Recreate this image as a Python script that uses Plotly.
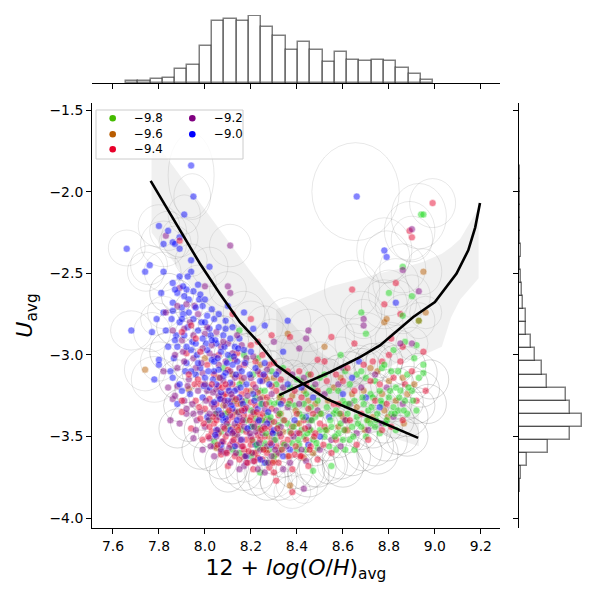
import plotly.graph_objects as go

# ---- marginal histograms (counts) ----
oh_start, oh_bin = 7.657, 0.0534
oh_counts = [5, 6, 11, 14, 43, 55, 112, 187, 193, 187, 200, 169, 142,
             100, 124, 100, 62, 92, 70, 67, 70, 67, 46, 28, 8]
u_start, u_bin = -3.84, 0.08
u_counts = [5, 13, 47, 177, 307, 380, 307, 286, 166, 138, 94, 70, 42,
            42, 23, 16, 10, 5, 13, 5, 3, 3, 3, 3, 3]

# ---- fitted relations and their bands ----
fit1_x = [7.764, 7.891, 7.978, 8.065, 8.152, 8.225, 8.312, 8.427, 8.529, 8.630, 8.732, 8.833, 8.927]
fit1_y = [-1.934, -2.236, -2.440, -2.625, -2.799, -2.911, -3.064, -3.177, -3.269, -3.330, -3.391, -3.453, -3.508]
fit2_x = [8.323, 8.427, 8.543, 8.674, 8.761, 8.906, 9.000, 9.094, 9.145, 9.175, 9.196]
fit2_y = [-3.246, -3.177, -3.106, -3.014, -2.942, -2.768, -2.676, -2.502, -2.359, -2.220, -2.069]

band1_x = [7.768, 7.90, 8.00, 8.10, 8.20, 8.30, 8.40, 8.50, 8.60, 8.70, 8.80, 8.93]
band1_hi = [-1.664, -1.92, -2.11, -2.30, -2.49, -2.67, -2.84, -2.98, -3.08, -3.16, -3.24, -3.33]
band1_lo = [-2.25, -2.50, -2.70, -2.90, -3.08, -3.24, -3.32, -3.38, -3.42, -3.46, -3.50, -3.56]
band2_x = [8.31, 8.43, 8.55, 8.66, 8.76, 8.85, 8.95, 9.03, 9.07, 9.11, 9.19]
band2_hi = [-2.72, -2.65, -2.58, -2.54, -2.50, -2.47, -2.43, -2.38, -2.34, -2.29, -2.10]
band2_lo = [-3.42, -3.38, -3.30, -3.20, -3.10, -3.04, -3.00, -2.95, -2.77, -2.66, -2.53]

# ---- galaxies, by colour class ----
pts_m90 = [(7.94,-1.84),(7.95,-2.03),(7.91,-2.14),(7.80,-2.21),(7.84,-2.24),(7.82,-2.32),(7.86,-2.31),
    (7.87,-2.32),(7.89,-2.28),(7.89,-2.35),(7.66,-2.35),(7.76,-2.45),(7.74,-2.49),(7.82,-2.49),(7.94,-2.42),
    (7.86,-2.56),(7.81,-2.62),(7.82,-2.74),(7.79,-2.78),(7.68,-2.85),(7.77,-2.86),(7.80,-3.03),(7.80,-3.06),
    (7.78,-3.15),(8.66,-2.03),(8.78,-2.36),(8.79,-2.40),(8.83,-2.68),(8.36,-2.79),(8.26,-2.82),(8.17,-2.74),
    (8.02,-2.46),(7.94,-2.49),(7.89,-2.52),(7.97,-2.57),(7.92,-2.60),(7.86,-2.68),(8.10,-2.70),(8.21,-2.84),
    (8.34,-2.98),(8.67,-3.04),(7.84,-2.95),(7.85,-3.10),(7.83,-2.85),
    (7.88,-2.62),(7.90,-2.71),(7.93,-2.66),(7.89,-2.80),(7.95,-2.78),(7.91,-2.88),(7.97,-2.85),(7.88,-2.95),
    (7.94,-2.97),(7.92,-3.05),(7.96,-3.12),(7.89,-3.18),
    (7.99,-2.70),(8.01,-2.76),(8.02,-2.84),(7.99,-2.90),(8.01,-2.97),(8.03,-3.03),(7.98,-3.08),(8.00,-3.14),
    (8.02,-3.20),(7.99,-3.26),(8.01,-3.38),
    (8.04,-2.78),(8.06,-2.83),(8.08,-2.88),(8.05,-2.93),(8.07,-2.98),(8.04,-3.04),(8.06,-3.09),(8.08,-3.13),
    (8.05,-3.18),(8.07,-3.23),(8.04,-3.29),(8.06,-3.34),(8.08,-3.40),(8.05,-3.46),(8.07,-3.55),
    (8.09,-2.84),(8.11,-2.90),(8.13,-2.95),(8.10,-3.00),(8.12,-3.06),(8.09,-3.11),(8.11,-3.17),(8.13,-3.22),
    (8.10,-3.28),(8.12,-3.33),(8.09,-3.39),(8.11,-3.46),(8.13,-3.56),
    (8.15,-2.90),(8.17,-2.97),(8.14,-3.04),(8.16,-3.10),(8.18,-3.18),(8.15,-3.26),(8.17,-3.34),(8.14,-3.40),
    (8.16,-3.52),(8.18,-3.62),
    (8.20,-2.98),(8.22,-3.08),(8.24,-3.16),(8.21,-3.24),(8.23,-3.33),(8.20,-3.44),(8.22,-3.55),(8.24,-3.64),
    (8.26,-3.05),(8.28,-3.18),(8.25,-3.30),(8.27,-3.42),(8.29,-3.55),(8.26,-3.66),
    (8.31,-3.12),(8.33,-3.30),(8.30,-3.46),(8.34,-3.62),(8.36,-3.18),(8.39,-3.40),(8.37,-3.58),
    (8.42,-3.20),(8.44,-3.38),(8.45,-3.55),(8.47,-3.26),(8.50,-3.50),(8.54,-3.38),(8.60,-3.24),
    (8.64,-3.14),(8.70,-3.26),(8.76,-3.32),
    (7.905,-2.75),(7.925,-2.83),(7.945,-2.92),(7.965,-3.00),(7.915,-3.10),(7.935,-3.24),(7.985,-2.80),
    (8.005,-2.93),(8.015,-3.10),(7.995,-3.19),(8.025,-2.88),(8.035,-3.15),(8.045,-2.91),(8.055,-3.02),
    (8.065,-3.27),(8.075,-3.37),(8.085,-2.95),(8.095,-3.05),(8.105,-3.22),(8.115,-3.31),(8.125,-3.01),
    (8.135,-3.12),(8.145,-2.96),(8.155,-3.20),(8.165,-3.30),(8.175,-3.05),(8.185,-3.45),(8.195,-3.12),
    (8.215,-3.28),(8.235,-3.40),(8.255,-3.12),(8.275,-3.35),(8.295,-3.48),(7.875,-2.88),(7.865,-3.02),
    (7.855,-2.78),(7.905,-2.58),(7.925,-2.52),(7.975,-2.66),(8.045,-3.49),
    (7.87,-2.60),(7.91,-2.64),(7.95,-2.61),(7.98,-2.63),(8.00,-2.66),(7.86,-2.73),(7.90,-2.78),(7.93,-2.74),
    (7.96,-2.71),(8.03,-2.72),(7.87,-2.91),(7.92,-2.95),(7.96,-2.93),(8.00,-2.80),(8.03,-2.91),(7.86,-3.14),
    (7.90,-3.22),(7.94,-3.10),(8.06,-2.75),(8.09,-2.79),(8.12,-2.83),(7.97,-3.05),(8.04,-3.10),(7.88,-3.30)]

pts_m92 = [(8.11,-2.33),(7.83,-2.27),(8.86,-2.48),(8.90,-2.23),(8.69,-2.78),(8.69,-2.82),(8.45,-2.85),
    (8.44,-2.90),(8.41,-2.96),(7.95,-3.51),(8.04,-3.56),(8.07,-3.59),(8.17,-3.68),(8.43,-3.82),(7.92,-3.36),
    (7.88,-3.19),(8.00,-2.58),(8.10,-2.58),(8.11,-2.62),(7.89,-2.59),(7.83,-2.74),(8.93,-2.61),(8.85,-2.93),
    (8.90,-2.93),(8.60,-3.08),(7.84,-3.20),(7.82,-3.10),(7.86,-3.27),(7.85,-3.40),(8.30,-2.92),
    (7.90,-2.91),(7.95,-3.02),(7.88,-3.08),(7.93,-3.15),(7.97,-3.22),(7.91,-3.28),(7.95,-3.36),(7.89,-3.42),
    (8.00,-2.87),(8.02,-2.99),(7.99,-3.11),(8.01,-3.22),(8.03,-3.30),(7.98,-3.35),(8.00,-3.44),(8.02,-3.51),
    (7.99,-3.58),
    (8.05,-2.86),(8.07,-2.95),(8.04,-3.01),(8.06,-3.06),(8.08,-3.16),(8.05,-3.21),(8.07,-3.27),(8.04,-3.32),
    (8.06,-3.38),(8.08,-3.44),(8.05,-3.50),(8.07,-3.58),(8.04,-3.62),(8.06,-3.25),
    (8.10,-2.93),(8.12,-2.99),(8.09,-3.04),(8.11,-3.10),(8.13,-3.14),(8.10,-3.20),(8.12,-3.26),(8.09,-3.31),
    (8.11,-3.37),(8.13,-3.42),(8.10,-3.48),(8.12,-3.53),(8.09,-3.60),(8.11,-3.66),
    (8.16,-2.94),(8.18,-3.02),(8.15,-3.08),(8.17,-3.14),(8.14,-3.21),(8.16,-3.28),(8.18,-3.32),(8.15,-3.38),
    (8.17,-3.44),(8.14,-3.49),(8.16,-3.56),(8.18,-3.66),(8.15,-3.70),
    (8.21,-3.01),(8.23,-3.10),(8.20,-3.14),(8.22,-3.20),(8.24,-3.27),(8.21,-3.35),(8.23,-3.41),(8.20,-3.50),
    (8.22,-3.47),(8.24,-3.58),(8.21,-3.65),(8.23,-3.70),
    (8.27,-3.09),(8.25,-3.16),(8.29,-3.24),(8.26,-3.33),(8.28,-3.40),(8.25,-3.48),(8.27,-3.56),(8.29,-3.62),
    (8.26,-3.72),
    (8.32,-3.10),(8.34,-3.20),(8.31,-3.34),(8.33,-3.44),(8.30,-3.52),(8.32,-3.60),(8.34,-3.70),
    (8.38,-3.12),(8.36,-3.32),(8.40,-3.48),(8.37,-3.66),(8.43,-3.14),(8.41,-3.30),(8.45,-3.44),(8.42,-3.58),
    (8.44,-3.65),(8.48,-3.18),(8.46,-3.40),(8.50,-3.58),(8.49,-3.34),(8.52,-3.24),(8.55,-3.52),(8.58,-3.18),
    (8.61,-3.40),(8.59,-3.56),(8.63,-3.30),(8.66,-3.48),(8.68,-3.20),(8.71,-3.46),(8.74,-3.12),(8.77,-3.42),
    (8.79,-3.20),(8.82,-3.38),(8.86,-3.30),
    (7.905,-2.98),(7.925,-3.19),(7.945,-3.30),(7.965,-3.40),(7.985,-3.05),(8.005,-3.28),(8.015,-3.40),
    (8.025,-3.56),(8.035,-3.23),(8.045,-3.36),(8.055,-3.46),(8.065,-3.14),(8.075,-3.53),(8.085,-3.28),
    (8.095,-3.42),(8.105,-3.57),(8.115,-3.24),(8.125,-3.47),(8.135,-3.60),(8.145,-3.35),(8.155,-3.52),
    (8.165,-3.40),(8.175,-3.62),(8.185,-3.25),(8.195,-3.48),(8.205,-3.60),(8.215,-3.44),(8.235,-3.54),
    (8.255,-3.44),(8.275,-3.66),(8.305,-3.58),(8.325,-3.48),(8.355,-3.56),(8.385,-3.50),(7.935,-2.80),
    (7.955,-2.70),
    (7.88,-2.70),(7.92,-2.69),(7.97,-2.75),(8.01,-2.83),(7.86,-2.85),(7.91,-2.84),(7.95,-2.88),(7.99,-2.96),
    (8.03,-2.94),(7.87,-3.00),(7.91,-3.04),(7.96,-3.08),(8.00,-3.18),(7.87,-3.25),(7.92,-3.33),(7.96,-3.46),
    (8.08,-2.92),(8.14,-2.88),(8.12,-3.48),(8.02,-3.36)]

pts_m94 = [(8.99,-2.07),(8.90,-2.28),(8.89,-2.24),(8.83,-2.56),(8.64,-2.60),(8.78,-2.69),(8.85,-2.75),
    (8.29,-2.88),(8.20,-2.78),(8.65,-2.93),(8.37,-2.89),(7.89,-2.30),(8.38,-3.84),(8.31,-3.77),(8.55,-2.89),
    (8.81,-2.90),(8.86,-2.95),(8.95,-2.98),(8.49,-3.03),(8.52,-3.04),(8.77,-3.04),(8.12,-2.75),(8.23,-2.92),
    (7.92,-2.99),(7.96,-3.28),(7.90,-3.35),(7.94,-3.45),
    (8.01,-3.06),(7.98,-3.18),(8.02,-3.27),(8.00,-3.33),(8.03,-3.47),(7.99,-3.52),
    (8.04,-3.12),(8.06,-3.19),(8.08,-3.25),(8.05,-3.30),(8.07,-3.36),(8.04,-3.42),(8.06,-3.48),(8.08,-3.53),
    (8.05,-3.40),(8.07,-3.61),(8.06,-3.00),
    (8.13,-3.03),(8.10,-3.09),(8.12,-3.18),(8.09,-3.24),(8.11,-3.29),(8.13,-3.35),(8.10,-3.40),(8.12,-3.45),
    (8.09,-3.50),(8.11,-3.55),(8.13,-3.62),(8.10,-3.68),(8.12,-3.38),
    (8.14,-2.99),(8.17,-3.06),(8.15,-3.13),(8.18,-3.22),(8.16,-3.24),(8.14,-3.30),(8.17,-3.37),(8.15,-3.43),
    (8.18,-3.47),(8.16,-3.41),(8.14,-3.55),(8.17,-3.58),(8.15,-3.64),(8.18,-3.52),
    (8.20,-2.94),(8.22,-3.04),(8.24,-3.12),(8.21,-3.18),(8.23,-3.23),(8.20,-3.29),(8.22,-3.31),(8.24,-3.38),
    (8.21,-3.42),(8.23,-3.49),(8.20,-3.55),(8.22,-3.60),(8.24,-3.52),(8.21,-3.70),(8.23,-3.63),(8.20,-3.38),
    (8.25,-3.00),(8.28,-3.06),(8.26,-3.13),(8.29,-3.19),(8.27,-3.26),(8.25,-3.36),(8.28,-3.44),(8.26,-3.50),
    (8.29,-3.47),(8.27,-3.60),(8.25,-3.64),(8.28,-3.69),(8.29,-3.33),
    (8.30,-3.05),(8.33,-3.15),(8.31,-3.22),(8.34,-3.28),(8.32,-3.37),(8.30,-3.41),(8.33,-3.50),(8.31,-3.56),
    (8.34,-3.54),(8.32,-3.66),(8.30,-3.72),
    (8.36,-3.10),(8.39,-3.22),(8.37,-3.28),(8.40,-3.36),(8.38,-3.44),(8.36,-3.52),(8.39,-3.61),(8.38,-3.70),
    (8.41,-3.10),(8.44,-3.18),(8.42,-3.26),(8.45,-3.33),(8.43,-3.40),(8.41,-3.48),(8.44,-3.52),(8.42,-3.62),
    (8.45,-3.68),(8.46,-3.12),(8.49,-3.22),(8.47,-3.36),(8.50,-3.42),(8.48,-3.48),(8.46,-3.56),(8.49,-3.64),
    (8.53,-3.16),(8.56,-3.30),(8.52,-3.44),(8.55,-3.60),(8.57,-3.12),(8.60,-3.16),(8.58,-3.30),(8.61,-3.46),
    (8.59,-3.36),(8.57,-3.52),(8.62,-3.08),(8.65,-3.22),(8.63,-3.40),(8.66,-3.55),(8.69,-3.06),(8.72,-3.16),
    (8.68,-3.36),(8.71,-3.52),(8.73,-3.04),(8.76,-3.18),(8.74,-3.28),(8.77,-3.46),(8.80,-3.00),(8.82,-3.14),
    (8.79,-3.30),(8.81,-3.44),(8.85,-3.04),(8.87,-3.18),(8.86,-3.40),(8.90,-3.10),(8.92,-3.28),(8.96,-3.22),
    (7.955,-3.18),(7.975,-3.32),(7.995,-3.42),(8.015,-3.50),(8.035,-3.38),(8.055,-3.55),(8.075,-3.20),
    (8.085,-3.45),(8.095,-3.60),(8.105,-3.34),(8.125,-3.52),(8.135,-3.27),(8.145,-3.46),(8.165,-3.56),
    (8.175,-3.33),(8.185,-3.66),(8.195,-3.40),(8.205,-3.52),(8.215,-3.65),(8.225,-3.35),(8.245,-3.46),
    (8.255,-3.58),(8.265,-3.30),(8.285,-3.54),(8.295,-3.66),(8.315,-3.45),(8.335,-3.58),(8.345,-3.40),
    (8.365,-3.62),(8.375,-3.48),(8.395,-3.56),(8.415,-3.62),(8.435,-3.45),(8.455,-3.58),(8.475,-3.50),
    (8.515,-3.55),
    (7.90,-2.86),(7.94,-2.82),(7.98,-2.98),(7.93,-3.12),(7.97,-3.15),(8.03,-3.18),(7.90,-3.28),(7.98,-3.39),
    (8.02,-3.44),(8.09,-3.18),(8.16,-3.34),(8.19,-3.59),(8.26,-3.45),(7.96,-2.90)]

pts_m96 = [(8.95,-2.49),(8.96,-2.74),(8.78,-2.80),(8.79,-2.78),(8.36,-2.87),(7.74,-3.09),(8.30,-3.65),
    (8.37,-3.80),(8.52,-2.95),(8.72,-3.08),(8.93,-2.79),(7.93,-3.21),(8.00,-3.02),
    (8.06,-3.14),(8.08,-3.31),(8.05,-3.57),(8.12,-3.12),(8.10,-3.35),(8.13,-3.49),(8.16,-3.16),(8.14,-3.44),
    (8.17,-3.62),(8.24,-3.06),(8.20,-3.22),(8.23,-3.45),(8.21,-3.60),(8.27,-3.15),(8.25,-3.26),(8.28,-3.50),
    (8.26,-3.40),(8.30,-3.14),(8.33,-3.36),(8.31,-3.61),(8.34,-3.47),(8.38,-3.25),(8.36,-3.62),(8.40,-3.42),
    (8.43,-3.22),(8.45,-3.28),(8.41,-3.42),(8.43,-3.63),(8.48,-3.30),(8.50,-3.36),(8.47,-3.60),(8.56,-3.20),
    (8.53,-3.46),(8.59,-3.14),(8.60,-3.38),(8.58,-3.44),(8.64,-3.24),(8.62,-3.46),(8.66,-3.32),(8.69,-3.22),
    (8.71,-3.40),(8.75,-3.10),(8.73,-3.38),(8.77,-3.24),(8.80,-3.16),(8.83,-3.28),(8.78,-3.34),(8.86,-3.14),
    (8.88,-3.24),(8.91,-3.18),
    (8.155,-3.30),(8.215,-3.36),(8.265,-3.58),(8.325,-3.26),(8.395,-3.34),(8.455,-3.46),(8.535,-3.28),
    (8.615,-3.40),(8.695,-3.46),(8.795,-3.38),(8.865,-3.42)]

pts_m98 = [(8.94,-2.14),(8.95,-2.14),(8.86,-2.46),(8.80,-2.62),(8.90,-2.64),(8.68,-2.74),(8.70,-2.87),
    (8.93,-2.79),(8.15,-2.85),(8.59,-3.00),(8.55,-3.68),(8.24,-3.72),(8.47,-3.71),(8.92,-2.94),(8.82,-2.97),
    (8.87,-2.92),(8.95,-3.11),(8.86,-2.76),(8.02,-3.40),
    (8.08,-3.08),(8.05,-3.36),(8.07,-3.47),(8.04,-3.53),(8.11,-3.02),(8.13,-3.28),(8.10,-3.44),(8.12,-3.58),
    (8.09,-3.36),(8.17,-3.00),(8.15,-3.18),(8.18,-3.28),(8.14,-3.35),(8.16,-3.46),(8.18,-3.40),(8.15,-3.60),
    (8.23,-3.02),(8.21,-3.12),(8.24,-3.22),(8.20,-3.34),(8.22,-3.39),(8.24,-3.45),(8.21,-3.53),(8.23,-3.57),
    (8.20,-3.62),(8.22,-3.26),
    (8.29,-3.10),(8.26,-3.22),(8.28,-3.29),(8.25,-3.40),(8.27,-3.37),(8.29,-3.41),(8.26,-3.54),(8.28,-3.58),
    (8.25,-3.57),(8.27,-3.66),
    (8.34,-3.08),(8.31,-3.18),(8.33,-3.25),(8.30,-3.30),(8.32,-3.43),(8.34,-3.40),(8.31,-3.48),(8.33,-3.58),
    (8.30,-3.62),(8.32,-3.29),
    (8.40,-3.15),(8.37,-3.20),(8.39,-3.31),(8.36,-3.42),(8.38,-3.54),(8.40,-3.58),(8.37,-3.47),
    (8.45,-3.12),(8.42,-3.16),(8.44,-3.24),(8.41,-3.36),(8.43,-3.30),(8.45,-3.40),(8.42,-3.46),(8.44,-3.58),
    (8.41,-3.55),(8.43,-3.50),
    (8.50,-3.14),(8.47,-3.20),(8.49,-3.28),(8.46,-3.32),(8.48,-3.38),(8.50,-3.46),(8.47,-3.52),(8.49,-3.57),
    (8.46,-3.46),
    (8.52,-3.12),(8.54,-3.22),(8.56,-3.36),(8.53,-3.32),(8.55,-3.44),(8.52,-3.50),(8.54,-3.56),
    (8.61,-3.10),(8.58,-3.22),(8.60,-3.28),(8.57,-3.34),(8.59,-3.42),(8.61,-3.30),(8.58,-3.48),(8.60,-3.52),
    (8.57,-3.58),(8.61,-3.58),
    (8.66,-3.12),(8.63,-3.18),(8.65,-3.28),(8.62,-3.36),(8.64,-3.44),(8.66,-3.38),(8.63,-3.52),(8.65,-3.58),
    (8.68,-3.10),(8.70,-3.14),(8.72,-3.24),(8.69,-3.30),(8.71,-3.34),(8.68,-3.44),(8.70,-3.50),(8.72,-3.42),
    (8.77,-3.08),(8.74,-3.16),(8.76,-3.22),(8.73,-3.26),(8.75,-3.36),(8.77,-3.30),(8.74,-3.44),(8.76,-3.48),
    (8.78,-3.06),(8.81,-3.10),(8.83,-3.20),(8.80,-3.26),(8.82,-3.32),(8.79,-3.40),(8.81,-3.36),(8.83,-3.46),
    (8.84,-3.10),(8.88,-3.12),(8.85,-3.22),(8.87,-3.28),(8.84,-3.34),(8.88,-3.36),
    (8.91,-3.02),(8.93,-3.14),(8.90,-3.22),(8.92,-3.34),(8.95,-3.06),
    (8.205,-3.44),(8.225,-3.55),(8.245,-3.30),(8.265,-3.48),(8.285,-3.38),(8.305,-3.52),(8.325,-3.36),
    (8.345,-3.55),(8.365,-3.30),(8.385,-3.44),(8.405,-3.52),(8.425,-3.38),(8.445,-3.48),(8.465,-3.40),
    (8.485,-3.54),(8.505,-3.36),(8.525,-3.46),(8.545,-3.40),(8.565,-3.50),(8.585,-3.36),(8.605,-3.46),
    (8.625,-3.30),(8.645,-3.50),(8.665,-3.42),(8.685,-3.26),(8.705,-3.40),(8.725,-3.32),(8.745,-3.40),
    (8.765,-3.28),(8.785,-3.42),(8.805,-3.22),(8.825,-3.36),(8.845,-3.26),(8.865,-3.34),(8.885,-3.20),
    (8.905,-3.28)]

# error ellipses: centre x, centre y, half-width, half-height
ellipses_wide = [(8.655,-2.00,.19,.30),(8.93,-2.15,.12,.20),(8.99,-2.07,.10,.15),(8.89,-2.24,.11,.18),
    (8.90,-2.29,.09,.14),(8.78,-2.36,.12,.20),(8.79,-2.40,.10,.16),(7.94,-1.90,.10,.26),(7.945,-2.03,.08,.14),
    (7.91,-2.14,.07,.12),(7.80,-2.21,.09,.13),(7.84,-2.24,.08,.12),(7.82,-2.32,.10,.14),(7.87,-2.31,.07,.10),
    (7.89,-2.28,.08,.12),(7.66,-2.345,.08,.11),(7.757,-2.45,.08,.12),(7.743,-2.49,.08,.12),(7.816,-2.49,.08,.12),
    (7.68,-2.85,.09,.12),(7.77,-2.86,.08,.12),(7.79,-2.78,.07,.10),(7.82,-2.74,.07,.10),(7.78,-3.15,.10,.14),
    (7.80,-3.04,.08,.12),(7.74,-3.09,.09,.13),(8.38,-3.84,.08,.10),(8.31,-3.77,.07,.10),(8.37,-3.80,.06,.09),
    (8.43,-3.82,.06,.09),(8.47,-3.71,.07,.10),(8.55,-3.68,.06,.09),(8.24,-3.72,.07,.10),(8.17,-3.68,.07,.10),
    (8.83,-2.56,.10,.15),(8.80,-2.62,.09,.14),(8.86,-2.47,.10,.15),(8.95,-2.49,.08,.14),(8.90,-2.64,.08,.13),
    (8.64,-2.60,.12,.18),(8.83,-2.68,.09,.14),(8.78,-2.69,.10,.15),(8.68,-2.74,.09,.13),(8.69,-2.78,.08,.12),
    (8.70,-2.87,.09,.13),(8.645,-2.93,.08,.12),(8.55,-2.89,.10,.14),(8.45,-2.85,.09,.13),(8.36,-2.79,.10,.14),
    (8.26,-2.82,.08,.12),(8.29,-2.88,.07,.10),(8.20,-2.78,.08,.11),(8.17,-2.74,.09,.13),(8.11,-2.33,.09,.13),
    (8.02,-2.46,.08,.12),(7.94,-2.42,.07,.10),(7.97,-2.57,.08,.12),(8.10,-2.60,.08,.11),(8.86,-2.75,.08,.12),
    (8.93,-2.79,.07,.11),(8.96,-2.74,.07,.10),(8.81,-2.90,.07,.10),(8.90,-2.93,.07,.10),(8.85,-2.95,.07,.10),
    (8.59,-3.00,.08,.11),(8.67,-3.04,.07,.10),(8.72,-3.07,.07,.10),(8.77,-3.04,.07,.10),(8.50,-3.03,.08,.11),
    (8.41,-2.96,.08,.11),(8.34,-2.98,.07,.10)]

ellipses_core = [(7.88,-2.64,.07,.10),(7.87,-2.83,.08,.11),(7.89,-2.99,.07,.10),(7.88,-3.15,.08,.12),
    (7.89,-3.31,.07,.10),(7.93,-2.71,.06,.09),(7.94,-2.87,.07,.10),(7.92,-3.06,.06,.09),(7.94,-3.21,.07,.11),
    (7.93,-3.41,.08,.12),(7.98,-2.76,.06,.09),(7.99,-2.91,.05,.08),(7.97,-3.11,.07,.10),(7.99,-3.26,.06,.09),
    (7.98,-3.46,.07,.11),(8.03,-2.81,.06,.08),(8.04,-2.96,.05,.08),(8.02,-3.14,.06,.09),(8.04,-3.29,.05,.08),
    (8.03,-3.48,.06,.09),(8.02,-3.61,.07,.10),(8.08,-2.85,.06,.09),(8.09,-2.99,.05,.07),(8.07,-3.17,.06,.08),
    (8.08,-3.32,.05,.08),(8.09,-3.51,.06,.09),(8.07,-3.65,.07,.11),(8.13,-2.91,.06,.09),(8.14,-3.04,.05,.07),
    (8.12,-3.21,.06,.08),(8.13,-3.35,.05,.08),(8.14,-3.53,.06,.09),(8.12,-3.68,.07,.11),(8.18,-2.96,.06,.09),
    (8.19,-3.09,.05,.07),(8.17,-3.26,.06,.08),(8.18,-3.39,.05,.08),(8.19,-3.56,.06,.09),(8.17,-3.71,.08,.12),
    (8.23,-3.01,.06,.09),(8.24,-3.14,.05,.08),(8.22,-3.31,.06,.09),(8.23,-3.43,.05,.08),(8.24,-3.59,.06,.09),
    (8.22,-3.73,.08,.13),(8.28,-3.06,.06,.09),(8.29,-3.19,.05,.08),(8.27,-3.35,.06,.09),(8.28,-3.47,.05,.08),
    (8.29,-3.63,.07,.10),(8.27,-3.76,.08,.13),(8.33,-3.11,.06,.09),(8.34,-3.23,.05,.08),(8.32,-3.39,.06,.09),
    (8.33,-3.51,.05,.08),(8.34,-3.65,.07,.10),(8.32,-3.77,.08,.12),(8.38,-3.13,.07,.10),(8.39,-3.26,.05,.08),
    (8.37,-3.42,.06,.09),(8.38,-3.54,.06,.09),(8.39,-3.70,.08,.12),(8.43,-3.15,.07,.10),(8.44,-3.28,.06,.08),
    (8.42,-3.44,.06,.09),(8.43,-3.56,.06,.09),(8.44,-3.71,.08,.12),(8.48,-3.15,.07,.10),(8.49,-3.30,.06,.08),
    (8.47,-3.44,.06,.09),(8.48,-3.58,.07,.10),(8.49,-3.69,.08,.12),(8.53,-3.13,.07,.11),(8.54,-3.27,.06,.09),
    (8.52,-3.43,.06,.09),(8.53,-3.55,.07,.10),(8.54,-3.67,.08,.12),(8.58,-3.11,.07,.11),(8.59,-3.27,.06,.09),
    (8.57,-3.41,.06,.09),(8.58,-3.53,.07,.10),(8.59,-3.64,.08,.12),(8.63,-3.09,.07,.11),(8.64,-3.25,.06,.09),
    (8.62,-3.39,.06,.09),(8.63,-3.50,.07,.10),(8.64,-3.62,.08,.12),(8.68,-3.07,.08,.11),(8.69,-3.23,.06,.09),
    (8.67,-3.37,.07,.10),(8.68,-3.48,.07,.10),(8.69,-3.59,.08,.12),(8.73,-3.05,.08,.12),(8.74,-3.21,.07,.10),
    (8.72,-3.35,.07,.10),(8.73,-3.46,.08,.11),(8.74,-3.56,.08,.12),(8.78,-3.04,.08,.12),(8.79,-3.19,.07,.10),
    (8.77,-3.32,.07,.10),(8.78,-3.43,.08,.11),(8.79,-3.53,.09,.12),(8.83,-3.06,.08,.12),(8.84,-3.18,.07,.10),
    (8.82,-3.30,.08,.11),(8.83,-3.40,.08,.11),(8.84,-3.49,.09,.12),(8.88,-3.07,.08,.12),(8.89,-3.18,.08,.11),
    (8.87,-3.29,.08,.11),(8.88,-3.38,.09,.12),(8.93,-3.11,.08,.12),(8.94,-3.21,.08,.11),(8.92,-3.31,.08,.11),
    (8.45,-3.74,.09,.13),(8.60,-3.68,.09,.13),(8.75,-3.60,.09,.13),(8.88,-3.50,.09,.12),(8.97,-3.30,.08,.12),
    (8.98,-3.15,.08,.12),(8.10,-3.72,.08,.12),(7.98,-3.58,.08,.12),(7.88,-3.45,.08,.12),(7.84,-2.98,.08,.12),
    (7.84,-2.62,.08,.12)]

classes = ["−9.8", "−9.6", "−9.4", "−9.2", "−9.0"]
class_pts = [pts_m98, pts_m96, pts_m94, pts_m92, pts_m90]
dot_colors = ["#16d816", "#b85c00", "#e8002a", "#800080", "#0000ff"]
key_colors = ["#44bb00", "#b85c00", "#e8002a", "#800080", "#0000ff"]

# mix the classes so that no colour sits entirely on top
xs, ys, cs = [], [], []
for i in range(max(len(p) for p in class_pts)):
    for pts, col in zip(class_pts, dot_colors):
        if i < len(pts):
            xs.append(pts[i][0]); ys.append(pts[i][1]); cs.append(col)

# the page adds an 8px body margin, so the figure is laid out on a 592px canvas
W = 592
def px(v):      # reference pixel -> canvas pixel
    return v - 8

fig = go.Figure()

for bx, hi, lo in [(band1_x, band1_hi, band1_lo), (band2_x, band2_hi, band2_lo)]:
    fig.add_trace(go.Scatter(x=bx + bx[::-1], y=hi + lo[::-1], fill="toself",
                             fillcolor="rgba(170,170,170,0.18)", line=dict(width=0),
                             mode="lines", showlegend=False, hoverinfo="skip"))

fig.add_trace(go.Scatter(x=xs, y=ys, mode="markers", showlegend=False,
                         marker=dict(size=7, color=cs, opacity=0.48,
                                     line=dict(color="white", width=0.5))))

for fx, fy in [(fit1_x, fit1_y), (fit2_x, fit2_y)]:
    fig.add_trace(go.Scatter(x=fx, y=fy, mode="lines", showlegend=False,
                             line=dict(color="black", width=2.6)))

# marginal histograms
oh_centres = [oh_start + (i + 0.5) * oh_bin for i in range(len(oh_counts))]
u_centres = [u_start + (i + 0.5) * u_bin for i in range(len(u_counts))]
fig.add_trace(go.Bar(x=oh_centres, y=oh_counts, width=oh_bin, xaxis="x2", yaxis="y2",
                     marker=dict(color="white", line=dict(color="rgba(0,0,0,0.5)", width=1.5)),
                     showlegend=False))
fig.add_trace(go.Bar(y=u_centres, x=u_counts, width=u_bin, orientation="h", xaxis="x3", yaxis="y3",
                     marker=dict(color="white", line=dict(color="rgba(0,0,0,0.5)", width=1.5)),
                     showlegend=False))

shapes = [dict(type="circle", xref="x", yref="y", x0=x - ex, x1=x + ex, y0=y - ey, y1=y + ey,
               line=dict(color="rgba(0,0,0,0.16)", width=0.6), layer="below")
          for x, y, ex, ey in ellipses_wide]
shapes += [dict(type="circle", xref="x", yref="y", x0=x - ex, x1=x + ex, y0=y - ey, y1=y + ey,
                line=dict(color="rgba(0,0,0,0.3)", width=0.5), layer="below")
           for x, y, ex, ey in ellipses_core]

# legend: frame, coloured keys and labels (two columns, filled column by column)
font = "DejaVu Sans"
shapes.append(dict(type="rect", xref="paper", yref="paper", x0=px(96)/W, x1=px(243)/W,
                   y0=1 - px(159)/W, y1=1 - px(110)/W, fillcolor="rgba(255,255,255,0.8)",
                   line=dict(color="rgb(204,204,204)", width=1), layer="above"))
annotations = []
key_x = [112.7, 112.7, 112.7, 192.3, 192.3]
key_y = [118.3, 134.3, 149.3, 118.3, 134.3]
for name, col, kx, ky in zip(classes, key_colors, key_x, key_y):
    r = 3.3
    shapes.append(dict(type="circle", xref="paper", yref="paper",
                       x0=(px(kx) - r)/W, x1=(px(kx) + r)/W, y0=1 - (px(ky) + r)/W, y1=1 - (px(ky) - r)/W,
                       fillcolor=col, line=dict(width=0), layer="above"))
    annotations.append(dict(text=name, xref="paper", yref="paper", x=(px(kx) + 19.5)/W, y=1 - px(ky)/W,
                            xanchor="left", yanchor="middle", showarrow=False,
                            font=dict(family=font, size=11.8, color="black")))

tickfont = dict(family=font, size=13.9, color="black")
x_ticks = [7.6, 7.8, 8.0, 8.2, 8.4, 8.6, 8.8, 9.0, 9.2]
y_ticks = [-4.0, -3.5, -3.0, -2.5, -2.0, -1.5]
axis_common = dict(showline=True, linecolor="black", linewidth=1, ticks="outside", ticklen=5,
                   tickwidth=1, tickcolor="black", showgrid=False, zeroline=False, automargin=False)
x_dom = [px(92)/W, px(500)/W]
y_dom = [1 - px(528)/W, 1 - px(103)/W]
x_rng = [7.509, 9.283]
y_rng = [-4.06, -1.457]

fig.update_layout(
    width=W, height=W, margin=dict(l=0, r=0, t=0, b=0), showlegend=False,
    paper_bgcolor="white", plot_bgcolor="white", barmode="overlay", bargap=0,
    font=dict(family=font, color="black"),
    shapes=shapes, annotations=annotations,
    xaxis=dict(axis_common, domain=x_dom, range=x_rng, anchor="y", tickvals=x_ticks,
               ticktext=[f"{v:.1f}" for v in x_ticks], tickfont=tickfont,
               title=dict(text="12 + <i>log</i>(<i>O</i>/<i>H</i>)<sub>avg</sub>",
                          font=dict(family=font, size=22), standoff=6)),
    yaxis=dict(axis_common, domain=y_dom, range=y_rng, anchor="x", tickvals=y_ticks,
               ticktext=[f"{v:.1f}".replace("-", "−") for v in y_ticks], tickfont=tickfont,
               title=dict(text="<i>U</i><sub>avg</sub>", font=dict(family=font, size=22), standoff=10)),
    xaxis2=dict(axis_common, domain=x_dom, range=x_rng, anchor="y2", tickvals=x_ticks,
                showticklabels=False),
    yaxis2=dict(domain=[1 - px(83)/W, 1 - px(15)/W], range=[0, 204], anchor="x2", visible=False),
    xaxis3=dict(domain=[px(519)/W, px(591)/W], range=[0, 434], anchor="y3", visible=False),
    yaxis3=dict(axis_common, domain=y_dom, range=y_rng, anchor="x3", tickvals=y_ticks,
                showticklabels=False),
)

fig.write_html("out.html")
